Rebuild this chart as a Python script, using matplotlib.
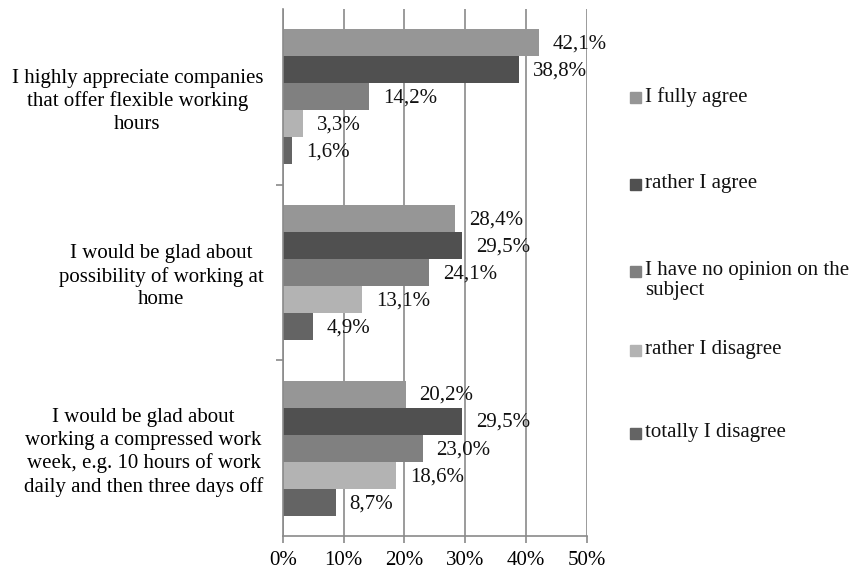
import matplotlib.pyplot as plt
from matplotlib.patches import Rectangle

# Datos del grafico
categorias = [
    "I highly appreciate companies\nthat offer flexible working\nhours",
    "I would be glad about\npossibility of working at\nhome",
    "I would be glad about\nworking a compressed work\nweek, e.g. 10 hours of work\ndaily and then three days off",
]
series = ["I fully agree", "rather I agree", "I have no opinion on the\nsubject",
          "rather I disagree", "totally I disagree"]
fully_agree = [42.1, 28.4, 20.2]
rather_agree = [38.8, 29.5, 29.5]
no_opinion = [14.2, 24.1, 23.0]
rather_disagree = [3.3, 13.1, 18.6]
totally_disagree = [1.6, 4.9, 8.7]
valores = [fully_agree, rather_agree, no_opinion, rather_disagree, totally_disagree]
ticks_x = [0, 10, 20, 30, 40, 50]

colores = ["#969696", "#505050", "#808080", "#b3b3b3", "#646464"]
GRIS = "#8a8a8a"
TAM = 15

plt.rcParams['font.family'] = ['Liberation Serif', 'DejaVu Serif']

fig = plt.figure(figsize=(8.57, 5.70), dpi=100)
ax = fig.add_axes([0.3299, 0.0596, 0.3547, 0.9246])

alto = 0.154
centros = [2, 1, 0]
for i, vals in enumerate(valores):
    ys = [c + (2 - i) * alto for c in centros]
    ax.barh(ys, vals, height=alto, color=colores[i], zorder=2)
    for y, v in zip(ys, vals):
        ax.annotate(f"{v:.1f}%".replace(".", ","), (v, y), xytext=(10, -1),
                    textcoords="offset points", va="center", ha="left",
                    fontsize=TAM, color="#111111", zorder=3)

ax.set_xlim(0, 50)
ax.set_ylim(-0.5, 2.5)
ax.set_xticks(ticks_x)
ax.set_xticklabels([f"{t}%" for t in ticks_x], fontsize=TAM)
ax.set_yticks([0.5, 1.5], minor=False)
ax.set_yticklabels([])
ax.set_yticks(centros, minor=True)
ax.set_yticklabels(categorias, minor=True, fontsize=TAM, multialignment="center",
                   linespacing=1.25)
ax.tick_params(axis="y", which="minor", length=0, pad=14)
ax.tick_params(axis="y", which="major", length=5, color=GRIS, width=1.2)
ax.tick_params(axis="x", length=5, color=GRIS, width=1.2, pad=6)

ax.grid(axis="x", color=GRIS, linewidth=1.2, zorder=1)
ax.set_axisbelow(True)
for lado in ["top", "right"]:
    ax.spines[lado].set_visible(False)
for lado in ["left", "bottom"]:
    ax.spines[lado].set_color(GRIS)
    ax.spines[lado].set_linewidth(1.2)

# Leyenda manual
ys_leyenda = [97, 184, 271, 350, 433]
for nombre, col, yp in zip(series, colores, ys_leyenda):
    fy = 1 - yp / 570
    fig.patches.append(Rectangle((630 / 857, fy - 5.5 / 570), 11 / 857, 11 / 570,
                                 transform=fig.transFigure, color=col))
    fig.text(645 / 857, fy + 10 / 570, nombre, fontsize=TAM, va="top", ha="left",
             color="#111111", linespacing=1.1)

fig.savefig("out.png", dpi=100)
